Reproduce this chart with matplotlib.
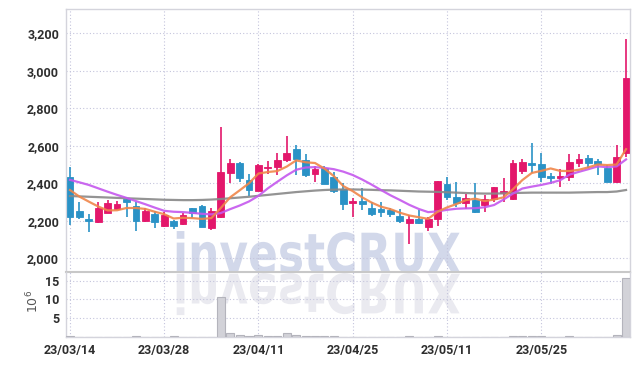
import numpy as np
import pandas as pd
import matplotlib
matplotlib.use('Agg')
import matplotlib.pyplot as plt
from matplotlib.textpath import TextPath
from matplotlib.patches import PathPatch
from matplotlib.font_manager import FontProperties
from matplotlib.transforms import Affine2D

# trading days (KRX holidays removed)
holidays = ['2023-05-01', '2023-05-05', '2023-05-29', '2023-06-06']
dates = pd.bdate_range('2023-03-14', '2023-06-09', freq='C', holidays=holidays)

opens = [2434, 2254, 2208, 2195, 2243, 2262, 2315, 2279, 2201, 2236,
         2172, 2201, 2181, 2267, 2280, 2163, 2219, 2457, 2510, 2418,
         2361, 2479, 2489, 2524, 2583, 2524, 2448, 2484, 2435, 2368,
         2293, 2306, 2267, 2263, 2258, 2226, 2190, 2210, 2165, 2210,
         2396, 2325, 2297, 2311, 2284, 2316, 2350, 2316, 2467, 2507,
         2503, 2439, 2428, 2432, 2510, 2537, 2519, 2480, 2409, 2563]
highs = [2487, 2302, 2235, 2302, 2312, 2305, 2318, 2302, 2268, 2250,
         2245, 2205, 2240, 2270, 2285, 2267, 2700, 2528, 2512, 2450,
         2503, 2520, 2560, 2650, 2605, 2556, 2492, 2490, 2462, 2400,
         2320, 2375, 2302, 2298, 2267, 2265, 2232, 2260, 2219, 2412,
         2435, 2409, 2343, 2403, 2338, 2382, 2427, 2524, 2528, 2613,
         2560, 2457, 2475, 2556, 2554, 2551, 2528, 2498, 2604, 3170]
lows = [2178, 2208, 2142, 2190, 2240, 2258, 2220, 2146, 2195, 2160,
        2168, 2155, 2178, 2213, 2165, 2151, 2213, 2400, 2408, 2332,
        2358, 2450, 2444, 2515, 2445, 2435, 2409, 2394, 2347, 2258,
        2222, 2258, 2226, 2219, 2220, 2188, 2075, 2185, 2147, 2172,
        2311, 2275, 2261, 2243, 2249, 2302, 2302, 2311, 2450, 2453,
        2409, 2396, 2382, 2414, 2485, 2480, 2444, 2408, 2400, 2540]
closes = [2220, 2222, 2199, 2267, 2293, 2290, 2298, 2199, 2254, 2194,
          2231, 2172, 2231, 2243, 2169, 2254, 2462, 2510, 2430, 2364,
          2498, 2489, 2524, 2563, 2528, 2444, 2475, 2396, 2359, 2290,
          2306, 2288, 2235, 2249, 2238, 2196, 2210, 2188, 2210, 2412,
          2329, 2297, 2320, 2249, 2315, 2379, 2361, 2510, 2515, 2499,
          2435, 2430, 2439, 2514, 2530, 2507, 2503, 2409, 2542, 2960]

# moving averages as drawn on the chart
ma_short = [2364, 2329, 2302, 2276, 2255, 2256, 2268, 2268, 2263, 2248,
            2235, 2212, 2216, 2214, 2210, 2214, 2268, 2325, 2362, 2400,
            2452, 2460, 2465, 2489, 2522, 2512, 2508, 2478, 2438, 2385,
            2358, 2325, 2297, 2275, 2262, 2243, 2228, 2219, 2210, 2248,
            2271, 2289, 2310, 2318, 2305, 2313, 2325, 2368, 2417, 2455,
            2466, 2479, 2466, 2465, 2472, 2485, 2500, 2497, 2500, 2582]
ma_mid = [2418, 2405, 2391, 2373, 2355, 2338, 2322, 2305, 2288, 2270,
          2253, 2248, 2246, 2242, 2237, 2234, 2241, 2262, 2281, 2303,
          2333, 2373, 2408, 2442, 2472, 2484, 2486, 2482, 2475, 2462,
          2444, 2420, 2393, 2364, 2336, 2311, 2285, 2263, 2246, 2250,
          2258, 2264, 2266, 2267, 2272, 2284, 2313, 2345, 2372, 2382,
          2391, 2402, 2416, 2446, 2461, 2475, 2490, 2486, 2490, 2527]
ma_long = [2332, 2330, 2328, 2326, 2324, 2322, 2320, 2318, 2316, 2314,
           2312, 2311, 2310, 2310, 2311, 2313, 2316, 2320, 2324, 2328,
           2333, 2338, 2343, 2348, 2353, 2357, 2361, 2364, 2366, 2367,
           2367, 2366, 2365, 2363, 2362, 2360, 2358, 2356, 2355, 2354,
           2352, 2350, 2348, 2346, 2345, 2345, 2346, 2348, 2349, 2350,
           2350, 2350, 2350, 2350, 2351, 2352, 2353, 2353, 2356, 2364]

# volume in millions
volume = [0.15, 0.05, 0.05, 0.05, 0.05, 0.05, 0.05, 0.15, 0.05, 0.05,
          0.05, 0.15, 0.05, 0.05, 0.05, 0.05, 10.6, 1.0, 0.5, 0.3,
          0.5, 0.3, 0.3, 1.0, 0.5, 0.3, 0.3, 0.3, 0.3, 0.05,
          0.05, 0.05, 0.05, 0.05, 0.05, 0.05, 0.2, 0.05, 0.05, 0.2,
          0.05, 0.05, 0.05, 0.05, 0.05, 0.05, 0.05, 0.35, 0.2, 0.2,
          0.2, 0.05, 0.05, 0.2, 0.05, 0.05, 0.05, 0.05, 0.5, 15.7]

price_ticks = [2000, 2200, 2400, 2600, 2800, 3000, 3200]
vol_ticks = [5, 10, 15]

UP = '#e3176b'
DOWN = '#2a92c6'
GRID = '#c4c4dc'
SPINE = '#d4d4dc'
W, H = 639, 366

plt.rcParams['font.family'] = ['Roboto', 'DejaVu Sans']

fig = plt.figure(figsize=(W / 100, H / 100), dpi=100, facecolor='white')
ax = fig.add_axes([66 / W, 1 - 272.3 / H, 564 / W, 263 / H])
axv = fig.add_axes([66 / W, 1 - 337 / H, 564 / W, 64.7 / H], sharex=ax)
for a in (ax, axv):
    a.set_facecolor('none')
    for s in a.spines.values():
        s.set_color(SPINE)
        s.set_linewidth(1.0)
    a.grid(True, color=GRID, linestyle=(0, (1, 2)), linewidth=0.8)
    a.set_axisbelow(True)
    a.tick_params(length=0, labelsize=9, labelcolor='#2e2e2e', pad=5)
ax.spines['bottom'].set_color('#c8c8c8')
ax.spines['bottom'].set_linewidth(1.5)
axv.spines['top'].set_visible(False)

x = np.arange(len(dates))
o = np.array(opens)
c = np.array(closes)
up = c >= o
colors = np.where(up, UP, DOWN)

# candles
ax.vlines(x, lows, highs, colors=colors, linewidth=1.2, zorder=3)
body = np.maximum(np.abs(c - o), 3)
ax.bar(x, body, bottom=np.minimum(o, c), width=0.72, color=colors,
       edgecolor=colors, linewidth=0.6, zorder=4)

ax.plot(x, ma_long, color='#888888', linewidth=1.6, alpha=0.9, zorder=5)
ax.plot(x, ma_mid, color='#c558ee', linewidth=1.6, alpha=0.9, zorder=5)
ax.plot(x, ma_short, color='#f0864a', linewidth=1.6, alpha=0.9, zorder=5)

ax.set_xlim(-0.42, 59.42)
ax.set_ylim(1925, 3328)
ax.set_yticks(price_ticks)
ax.set_yticklabels([f'{v:,}' for v in price_ticks], fontweight='bold')
ax.tick_params(axis='x', labelbottom=False)

axv.bar(x, volume, width=0.85, color='#d2d2d8', edgecolor='#b4b4bc',
        linewidth=0.8, zorder=3)
axv.set_ylim(0, 17.24)
axv.set_yticks(vol_ticks)
axv.set_yticklabels([str(v) for v in vol_ticks], fontweight='bold')
tick_pos = x[::10]
axv.set_xticks(tick_pos)
axv.set_xticklabels([dates[i].strftime('%y/%m/%d') for i in tick_pos],
                    fontweight='bold')
fig.text(33 / W, 1 - 301 / H, r'$10^{6}$', rotation=90, ha='center',
         va='center', fontsize=9, color='#555555')

# watermark with reflection
fp = FontProperties(family='DejaVu Sans', weight='bold')
tp = TextPath((0, 0), 'investCRUX', size=100, prop=fp)
ext = tp.get_extents()
cap = TextPath((0, 0), 'X', size=100, prop=fp).get_extents().y1
sx = (460 - 176.7) / ext.width
sy = 39.6 / cap
base = H - 272.3
to_fig = Affine2D().scale(1 / W, 1 / H)
tr = Affine2D().translate(-ext.x0, 0).scale(sx, sy).translate(176.7, base) + to_fig
tr2 = Affine2D().translate(-ext.x0, 0).scale(sx, -sy).translate(176.7, base - 1.5) + to_fig
fig.patches.append(PathPatch(tr.transform_path(tp), transform=fig.transFigure,
                             facecolor='#d2d8ea', edgecolor='none', zorder=-1))
fig.patches.append(PathPatch(tr2.transform_path(tp), transform=fig.transFigure,
                             facecolor='#eaeaf0', edgecolor='none', zorder=-1))

fig.savefig('out.png', dpi=100, facecolor='white')
